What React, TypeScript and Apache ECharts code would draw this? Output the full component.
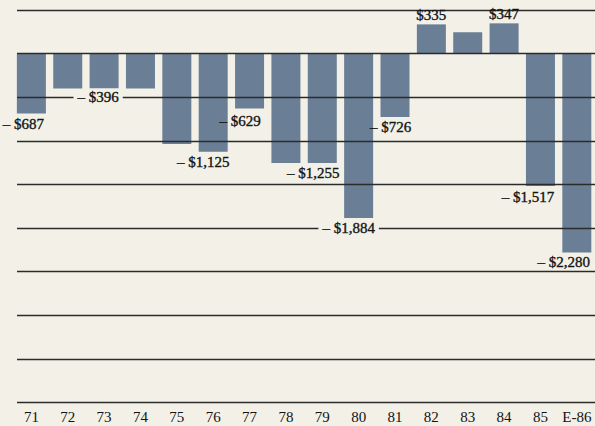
import React, { useEffect, useRef } from "react";
import * as echarts from "echarts";

const categories = ["71", "72", "73", "74", "75", "76", "77", "78", "79", "80", "81", "82", "83", "84", "85", "E-86"];
const values = [-687, -400, -396, -400, -1035, -1125, -629, -1255, -1255, -1884, -726, 335, 245, 347, -1517, -2280];
const labeled = [true, false, true, false, false, true, true, false, true, true, true, true, false, true, true, true];
const axisMin = -4000;
const axisMax = 500;
const axisStep = 500;

// label placement tweaks (style, not data)
const labelPlacement: Record<string, { dx: number; dist: number; gap?: boolean }> = {
  "71": { dx: -8, dist: 3 },
  "73": { dx: -6, dist: 1.6, gap: true },
  "76": { dx: -10, dist: 2.5 },
  "77": { dx: -9.5, dist: 5.5 },
  "79": { dx: -9, dist: 2.5 },
  "80": { dx: -10, dist: 2.6, gap: true },
  "81": { dx: -4.5, dist: 3 },
  "82": { dx: 0, dist: 1.5 },
  "84": { dx: 0, dist: 1.5 },
  "85": { dx: -12.5, dist: 3.5 },
  "E-86": { dx: -13, dist: 2.5 },
};

const BG = "#f2f0e7";
const BAR = "#6a7e96";
const INK = "#141414";
const FONT = "'Liberation Serif', 'DejaVu Serif', serif";

function fmt(v: number): string {
  const s = "$" + Math.abs(v).toLocaleString("en-US");
  return v < 0 ? "\u2013 " + s : s;
}

export default function App() {
  const ref = useRef<HTMLDivElement>(null);
  useEffect(() => {
    document.body.style.margin = "0";
    document.body.style.background = BG;
    if (!ref.current) return;
    const chart = echarts.init(ref.current, undefined, { renderer: "svg" });

    const labelData = values.map((v, i) => {
      const cat = categories[i];
      const p = labelPlacement[cat] || { dx: 0, dist: 3 };
      return {
        value: v,
        label: {
          show: labeled[i],
          position: v < 0 ? "bottom" : "top",
          distance: p.dist,
          offset: [p.dx, 0],
          formatter: fmt(v),
          fontFamily: FONT,
          fontSize: 15,
          lineHeight: 15,
          color: INK,
          textBorderColor: INK,
          textBorderWidth: 0.35,
          backgroundColor: p.gap ? BG : "transparent",
          padding: p.gap ? [0, 4, 0, 4] : 0,
        },
      };
    });

    chart.setOption({
      animation: false,
      backgroundColor: BG,
      grid: [
        { left: 13.2, right: -2.8, top: 10, bottom: 23.5 },
        { left: 17, right: 0, top: 10, bottom: 23.5 },
      ],
      xAxis: [
        {
          type: "category",
          gridIndex: 0,
          data: categories,
          axisLine: { show: false },
          axisTick: { show: false },
          axisLabel: { fontFamily: FONT, fontSize: 15, color: INK, margin: 7, interval: 0 },
        },
        { type: "value", gridIndex: 1, min: 0, max: 1, show: false },
      ],
      yAxis: [
        { type: "value", gridIndex: 0, min: axisMin, max: axisMax, interval: axisStep, show: false },
        {
          type: "value",
          gridIndex: 1,
          min: axisMin,
          max: axisMax,
          interval: axisStep,
          z: 2,
          axisLine: { show: false },
          axisTick: { show: false },
          axisLabel: { show: false },
          splitLine: { show: true, lineStyle: { color: "#2b2b2b", width: 1.4 } },
        },
      ],
      series: [
        {
          type: "bar",
          xAxisIndex: 0,
          yAxisIndex: 0,
          data: values,
          barWidth: 29,
          z: 1,
          itemStyle: { color: BAR },
        },
        {
          type: "bar",
          xAxisIndex: 0,
          yAxisIndex: 0,
          data: labelData,
          barWidth: 29,
          barGap: "-100%",
          z: 3,
          itemStyle: { color: "transparent" },
          silent: true,
        },
      ],
    });
    return () => chart.dispose();
  }, []);
  return <div ref={ref} style={{ width: 595, height: 426, background: BG }} />;
}
